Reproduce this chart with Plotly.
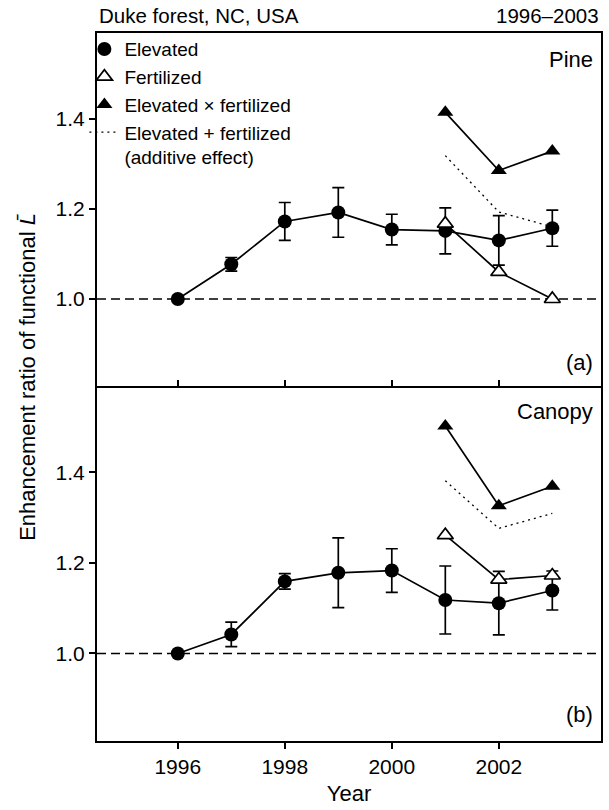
import plotly.graph_objects as go

# ---------------- data ----------------
years = [1996, 1997, 1998, 1999, 2000, 2001, 2002, 2003]
years_fert = [2001, 2002, 2003]

pine_elev = [1.000, 1.077, 1.172, 1.192, 1.154, 1.151, 1.130, 1.157]
pine_elev_err = [0.000, 0.015, 0.042, 0.055, 0.034, 0.051, 0.055, 0.040]
pine_fert = [1.167, 1.060, 1.000]
pine_exf = [1.414, 1.285, 1.328]
pine_add = [1.318, 1.193, 1.160]

can_elev = [1.000, 1.042, 1.159, 1.178, 1.183, 1.118, 1.111, 1.139]
can_elev_err = [0.000, 0.027, 0.017, 0.077, 0.048, 0.075, 0.070, 0.043]
can_fert = [1.261, 1.163, 1.172]
can_exf = [1.502, 1.326, 1.369]
can_add = [1.381, 1.276, 1.309]

x_ticks = [1996, 1998, 2000, 2002]
y_ticks = [1.0, 1.2, 1.4]
y_ticklabels = ["1.0", "1.2", "1.4"]

names = ["Elevated", "Fertilized", "Elevated \u00d7 fertilized",
         "Elevated + fertilized<br>(additive effect)"]

FONT = "Liberation Sans, Arial, Helvetica, sans-serif"
BLACK = "black"
LW = 1.7
MS = 14

fig = go.Figure()


def line_trace(x, y, xa, ya):
    fig.add_trace(go.Scatter(x=x, y=y, mode="lines", xaxis=xa, yaxis=ya,
                             showlegend=False, hoverinfo="skip",
                             line=dict(color=BLACK, width=LW)))


def add_panel(xa, ya, elev, elev_err, fert, exf, add, show):
    # connecting lines first (drawn beneath markers)
    line_trace(years, elev, xa, ya)
    line_trace(years_fert, fert, xa, ya)
    line_trace(years_fert, exf, xa, ya)
    fig.add_trace(go.Scatter(
        x=years, y=elev, name=names[0], mode="markers",
        xaxis=xa, yaxis=ya, showlegend=show, legendrank=1,
        marker=dict(symbol="circle", size=MS, color=BLACK),
        error_y=dict(type="data", array=elev_err, visible=True,
                     color=BLACK, thickness=LW, width=6)))
    fig.add_trace(go.Scatter(
        x=years_fert, y=fert, name=names[1], mode="markers",
        xaxis=xa, yaxis=ya, showlegend=show, legendrank=2,
        marker=dict(symbol="triangle-up", size=MS, color="white",
                    line=dict(color=BLACK, width=1.7))))
    fig.add_trace(go.Scatter(
        x=years_fert, y=exf, name=names[2], mode="markers",
        xaxis=xa, yaxis=ya, showlegend=show, legendrank=3,
        marker=dict(symbol="triangle-up", size=MS, color=BLACK)))
    fig.add_trace(go.Scatter(
        x=years_fert, y=add, name=names[3], mode="lines",
        xaxis=xa, yaxis=ya, showlegend=show, legendrank=4,
        line=dict(color=BLACK, width=1.3, dash="2px,4px")))


add_panel("x", "y", pine_elev, pine_elev_err, pine_fert, pine_exf, pine_add, True)
add_panel("x2", "y2", can_elev, can_elev_err, can_fert, can_exf, can_add, False)

# reference line at ratio 1.0
for xr, yr in (("x domain", "y"), ("x2 domain", "y2")):
    fig.add_shape(type="line", xref=xr, yref=yr, x0=0, x1=1, y0=1.0, y1=1.0,
                  line=dict(color=BLACK, width=1.5, dash="9px,5px"), layer="below")

XR = [1994.49, 2003.91]
YR = [0.807, 1.59]
SPLIT = 0.5014

axis_common = dict(showgrid=False, zeroline=False, showline=True,
                   linecolor=BLACK, linewidth=2, tickcolor=BLACK, tickwidth=2,
                   ticklen=6, tickfont=dict(family=FONT, size=21, color=BLACK))

fig.update_layout(
    width=609, height=810,
    margin=dict(l=97, r=6, t=33, b=69),
    paper_bgcolor="white", plot_bgcolor="white",
    font=dict(family=FONT, size=20, color=BLACK),
    xaxis=dict(anchor="y", domain=[0, 1], range=XR, tickvals=x_ticks,
               ticks="inside", showticklabels=False, mirror=True, **axis_common),
    yaxis=dict(anchor="x", domain=[SPLIT, 1], range=YR, tickvals=y_ticks,
               ticktext=y_ticklabels, ticks="outside", mirror=True, **axis_common),
    xaxis2=dict(anchor="y2", domain=[0, 1], range=XR, tickvals=x_ticks,
                ticktext=[str(v) for v in x_ticks], ticks="outside", mirror=False,
                title=dict(text="Year", font=dict(family=FONT, size=22), standoff=8),
                **axis_common),
    yaxis2=dict(anchor="x2", domain=[0, SPLIT], range=YR, tickvals=y_ticks,
                ticktext=y_ticklabels, ticks="outside", mirror=True, **axis_common),
    legend=dict(x=-0.025, y=1.004, xanchor="left", yanchor="top",
                bgcolor="rgba(0,0,0,0)", font=dict(family=FONT, size=19),
                valign="top", tracegroupgap=0, traceorder="normal"),
    showlegend=True,
)

ann = [
    dict(text="Duke forest, NC, USA", x=0, y=1.0, xref="paper", yref="paper",
         xanchor="left", yanchor="bottom", yshift=4, font=dict(size=20.5)),
    dict(text="1996\u20132003", x=1, y=1.0, xref="paper", yref="paper",
         xanchor="right", yanchor="bottom", yshift=4, font=dict(size=20.5)),
    dict(text="Pine", x=0.988, y=0.962, xref="paper", yref="paper",
         xanchor="right", yanchor="middle", font=dict(size=22)),
    dict(text="(a)", x=0.988, y=0.534, xref="paper", yref="paper",
         xanchor="right", yanchor="middle", font=dict(size=22)),
    dict(text="Canopy", x=0.988, y=0.465, xref="paper", yref="paper",
         xanchor="right", yanchor="middle", font=dict(size=22)),
    dict(text="(b)", x=0.988, y=0.037, xref="paper", yref="paper",
         xanchor="right", yanchor="middle", font=dict(size=22)),
    dict(text="Enhancement ratio of functional <i>L\u0304</i>", x=-0.138, y=0.515,
         xref="paper", yref="paper", xanchor="center", yanchor="middle",
         textangle=-90, showarrow=False, font=dict(size=22)),
]
for a in ann:
    a.setdefault("showarrow", False)
    fig.add_annotation(**a)

fig.write_html("out.html")
